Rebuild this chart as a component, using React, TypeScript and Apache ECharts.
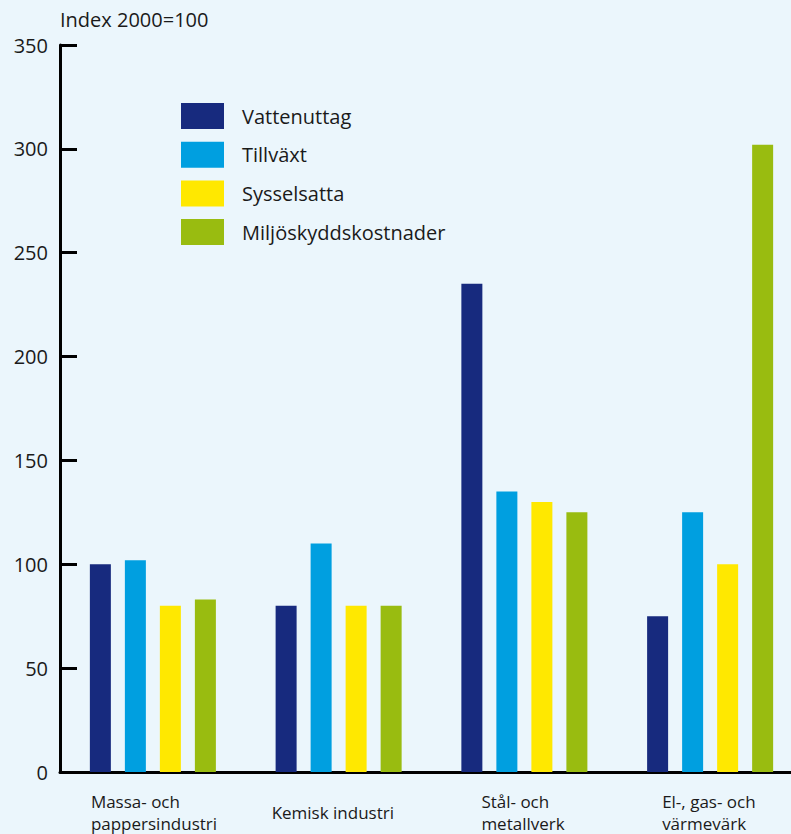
import React, { useEffect, useRef } from "react";
import * as echarts from "echarts";

const categories = [
  "Massa- och\npappersindustri",
  "Kemisk industri",
  "Stål- och\nmetallverk",
  "El-, gas- och\nvärmevärk",
];
const seriesNames = ["Vattenuttag", "Tillväxt", "Sysselsatta", "Miljöskyddskostnader"];
const vattenuttag = [100, 80, 235, 75];
const tillvaxt = [102, 110, 135, 125];
const sysselsatta = [80, 80, 130, 100];
const miljoskydd = [83, 80, 125, 302];
const yTicks = [0, 50, 100, 150, 200, 250, 300, 350];

const colors = ["#172A7E", "#009FE0", "#FFE800", "#99BC10"];
const FONT = "'Open Sans', 'Noto Sans', sans-serif";
// rich-text keys giving each label block its own width, so lines sit left-aligned in a centred block
const labelKeys = ["a", "b", "c", "d"];
const labelWidths = [124, 134, 86, 96];
const LINE_H = 22;

export default function App() {
  const ref = useRef<HTMLDivElement>(null);

  useEffect(() => {
    if (!ref.current) return;
    const chart = echarts.init(ref.current, null, { renderer: "svg" });
    const values = [vattenuttag, tillvaxt, sysselsatta, miljoskydd];
    const rich: Record<string, any> = {};
    labelKeys.forEach((k, i) => {
      const lines = categories[i].split("\n").length;
      rich[k] = {
        width: labelWidths[i],
        align: "left",
        fontSize: 17,
        // single-line labels are centred on the two-line block height
        lineHeight: lines === 1 ? LINE_H * 2 : LINE_H,
        color: "#1a1a1a",
        fontFamily: FONT,
      };
    });

    chart.setOption({
      animation: false,
      backgroundColor: "#EBF6FC",
      textStyle: { fontFamily: FONT },
      title: {
        text: "Index 2000=100",
        left: 60,
        top: 9,
        textStyle: { fontSize: 20, fontWeight: "normal", color: "#1a1a1a", fontFamily: FONT },
        padding: 0,
      },
      legend: {
        orient: "vertical",
        left: 181,
        top: 103,
        padding: 0,
        itemWidth: 43,
        itemHeight: 26,
        itemGap: 12.7,
        icon: "rect",
        data: seriesNames,
        selectedMode: false,
        textStyle: { fontSize: 20, color: "#1a1a1a", fontFamily: FONT, padding: [0, 0, 0, 13] },
      },
      grid: { left: 60, right: 0, top: 45, bottom: 62, containLabel: false },
      xAxis: {
        type: "category",
        data: categories,
        axisLine: { lineStyle: { color: "#000", width: 3 } },
        axisTick: { show: false },
        axisLabel: {
          margin: 18,
          interval: 0,
          formatter: (v: string, i: number) =>
            v
              .split("\n")
              .map((line) => `{${labelKeys[i]}|${line}}`)
              .join("\n"),
          rich,
        },
      },
      yAxis: {
        type: "value",
        min: yTicks[0],
        max: yTicks[yTicks.length - 1],
        interval: 50,
        splitLine: { show: false },
        axisLine: { show: true, lineStyle: { color: "#000", width: 3 } },
        axisTick: { show: true, inside: true, length: 17, lineStyle: { color: "#000", width: 3 } },
        axisLabel: { fontSize: 20, color: "#1a1a1a", margin: 12, fontFamily: FONT },
      },
      series: seriesNames.map((name, i) => ({
        name,
        type: "bar",
        data: values[i],
        barWidth: 21,
        barGap: "66.7%",
        itemStyle: { color: colors[i] },
      })),
    });
    return () => chart.dispose();
  }, []);

  return (
    <div
      ref={ref}
      style={{ position: "fixed", left: 0, top: 0, width: 803, height: 834 }}
    />
  );
}
